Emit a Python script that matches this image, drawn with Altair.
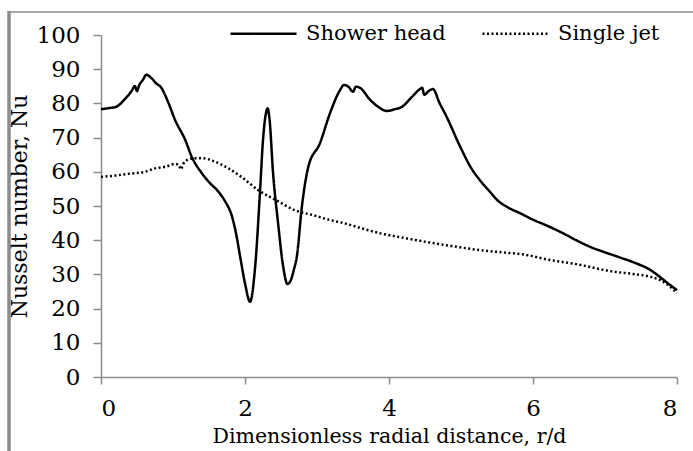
import altair as alt
import pandas as pd

# Shower-head impingement: local Nusselt number vs r/d
shower_r = [0.00, 0.10, 0.21, 0.32, 0.43, 0.47, 0.50, 0.53, 0.58, 0.63, 0.70, 0.76,
            0.84, 0.93, 1.03, 1.17, 1.26, 1.40, 1.50, 1.63, 1.72, 1.82, 1.88, 1.93,
            2.00, 2.07, 2.14, 2.21, 2.25, 2.29, 2.315, 2.34, 2.39, 2.46, 2.53, 2.59,
            2.64, 2.68, 2.72, 2.79, 2.88, 3.04, 3.18, 3.32, 3.375, 3.44, 3.50, 3.54,
            3.60, 3.74, 3.85, 3.97, 4.08, 4.18, 4.30, 4.43, 4.46, 4.49, 4.55, 4.61,
            4.70, 4.80, 4.99, 5.13, 5.26, 5.40, 5.50, 5.65, 5.82, 6.00, 6.20, 6.42,
            6.60, 6.80, 6.98, 7.20, 7.40, 7.63, 7.76, 7.88, 8.00]
shower_nu = [78.3, 78.6, 79.0, 81.0, 83.8, 85.1, 83.6, 85.3, 86.8, 88.4, 87.4, 86.0,
             84.5, 80.5, 75.1, 69.3, 64.4, 59.6, 57.0, 54.2, 51.5, 46.9, 41.5, 35.5,
             27.4, 22.0, 32.0, 54.7, 69.3, 77.0, 78.6, 75.5, 59.6, 44.9, 32.3, 27.2,
             28.5, 31.5, 35.2, 49.8, 61.5, 68.3, 77.1, 83.9, 85.4, 84.8, 83.4, 84.9,
             84.5, 81.0, 79.0, 77.8, 78.3, 79.0, 81.5, 84.2, 84.6, 82.5, 83.6, 84.2,
             80.2, 76.1, 67.3, 61.5, 57.6, 54.2, 51.8, 49.6, 47.9, 46.0, 44.2, 42.0,
             40.0, 38.0, 36.6, 35.0, 33.5, 31.3, 29.3, 27.3, 25.4]

# Single jet: local Nusselt number vs r/d
single_r = [0.00, 0.20, 0.38, 0.61, 0.75, 0.90, 1.03, 1.08, 1.11, 1.14, 1.26, 1.40,
            1.58, 1.77, 1.95, 2.18, 2.45, 2.69, 2.95, 3.18, 3.39, 3.60, 3.88, 4.20,
            4.57, 4.90, 5.26, 5.60, 5.91, 6.19, 6.60, 7.12, 7.40, 7.63, 7.76, 7.88, 8.00]
single_nu = [58.5, 58.9, 59.4, 60.0, 61.0, 61.5, 62.3, 62.0, 60.7, 62.3, 63.9, 64.0,
             63.0, 61.0, 58.5, 54.7, 51.5, 48.8, 47.3, 45.9, 44.9, 43.6, 42.0, 40.7,
             39.3, 38.2, 37.1, 36.4, 35.7, 34.4, 33.0, 30.8, 30.1, 29.3, 28.4, 26.8, 24.5]

series_names = ["Shower head", "Single jet"]
x_ticks = [0, 2, 4, 6, 8]
y_ticks = list(range(0, 101, 10))

df = pd.concat([
    pd.DataFrame({"r": shower_r, "nu": shower_nu, "series": series_names[0]}),
    pd.DataFrame({"r": single_r, "nu": single_nu, "series": series_names[1]}),
])

FONT = "DejaVu Serif"
GREY = "#8c8c8c"

legend = alt.Legend(
    title=None, orient="none", direction="horizontal",
    legendX=128, legendY=-36,
    symbolType="stroke", symbolSize=4356, symbolStrokeWidth=2.5,
    labelFont=FONT, labelFontSize=21, labelColor="black", labelOffset=8,
    labelLimit=400, columnPadding=31,
)

lines = alt.Chart(df).mark_line(strokeWidth=2.5, interpolate="monotone").encode(
    x=alt.X("r:Q", scale=alt.Scale(domain=[0, 8], nice=False),
            axis=alt.Axis(values=x_ticks, title="Dimensionless radial distance, r/d",
                          tickSize=7, labelPadding=13, titlePadding=6, titleFontSize=20.5)),
    y=alt.Y("nu:Q", scale=alt.Scale(domain=[0, 100], nice=False),
            axis=alt.Axis(values=y_ticks, title="Nusselt number, Nu",
                          tickSize=8, labelPadding=13, titlePadding=5, titleFontSize=22)),
    color=alt.Color("series:N", scale=alt.Scale(domain=series_names, range=["black", "black"]),
                    legend=legend),
    strokeDash=alt.StrokeDash("series:N",
                              scale=alt.Scale(domain=series_names, range=[[1, 0], [2, 2.5]]),
                              legend=legend),
    detail="series:N",
)

# outer frame edges
frame = alt.Chart(alt.Data(values=[{}]))
left_edge = frame.mark_rule(color=GREY, strokeWidth=3.5).encode(
    x=alt.value(-92), y=alt.value(-24), y2=alt.value(420))
top_edge = frame.mark_rule(color=GREY, strokeWidth=1.5).encode(
    x=alt.value(-93), x2=alt.value(600), y=alt.value(-23))

chart = alt.layer(left_edge, top_edge, lines).properties(
    width=576, height=342,
    autosize=alt.AutoSizeParams(type="none"),
    padding={"left": 101, "top": 35, "right": 16, "bottom": 74},
    background="white",
).configure_view(stroke="transparent").configure_axis(
    grid=False, domainColor=GREY, tickColor=GREY, domainWidth=1.5, tickWidth=1.5,
    labelFont=FONT, labelFontSize=23, labelColor="black",
    titleFont=FONT, titleFontWeight="normal", titleColor="black",
)

chart.save("out.html", embed_options={"renderer": "svg", "actions": False})
